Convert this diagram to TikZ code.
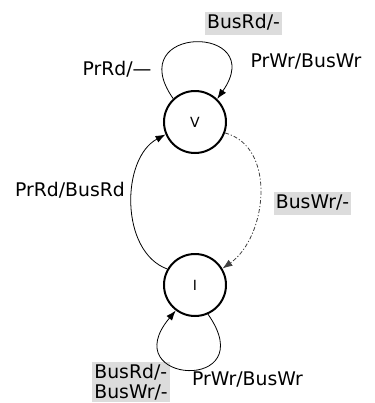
\documentclass[tikz,border=0pt]{standalone}
\usepackage{fontspec}
\setmainfont{DejaVu Sans}
\usetikzlibrary{arrows.meta,positioning}
\definecolor{labgray}{RGB}{220,220,220}

\begin{document}
\begin{tikzpicture}[x=1pt,y=1pt,
            state/.style={draw,circle,line width=1pt,minimum size=31pt,inner sep=0pt,font=\fontsize{7}{8}\selectfont},
            lab/.style={inner sep=1pt,font=\fontsize{9.4}{10}\selectfont,text height=7.2pt,text depth=2pt},
            buslab/.style={lab,fill=labgray},
            buslist/.style={fill=labgray,inner sep=1pt,align=left,font=\fontsize{9.4}{10}\selectfont},
            trans/.style={->,line width=0.4pt,>={Latex[length=5pt,width=3.6pt]}},
            snoop/.style={black!75,dash pattern=on 2pt off 1pt on 0.6pt off 1pt}
          ]
          \useasboundingbox (-97.5,-140.5) rectangle (90,61);

          \node[state] (V) at (0,0) {V};
          \node[below of = V,state,node distance=81.5pt] (I) {I};

          %labels
          \node[buslab] (vbus) at (24.25,49.25) {BusRd/-};
          \node[lab] (vrd) at (-39,26) {PrRd/---};
          \node[lab] (vwr) at (55.5,30) {PrWr/BusWr};
          \node[lab] (ird) at (-62.5,-34.5) {PrRd/BusRd};
          \node[buslab] (vinv) at (58.75,-40.75) {BusWr/-};
          \node[buslist,anchor=north west] (ibus) at (-51.5,-120) {BusRd/-\\BusWr/-};
          \node[lab] (iwr) at (26.25,-129) {PrWr/BusWr};

          %transitions
          \path[trans]
          (V.133) edge[out=125,in=55,looseness=5.3] (V.46)
          (I.-66) edge[out=-55,in=-130,looseness=7.6] (I.233)
          (I.150) edge[out=160,in=208,looseness=0.96] (V.203)
          (V.-20) edge[snoop,out=-15,in=35,looseness=1.02] (I.31)
          ;

      \end{tikzpicture}
\end{document}
